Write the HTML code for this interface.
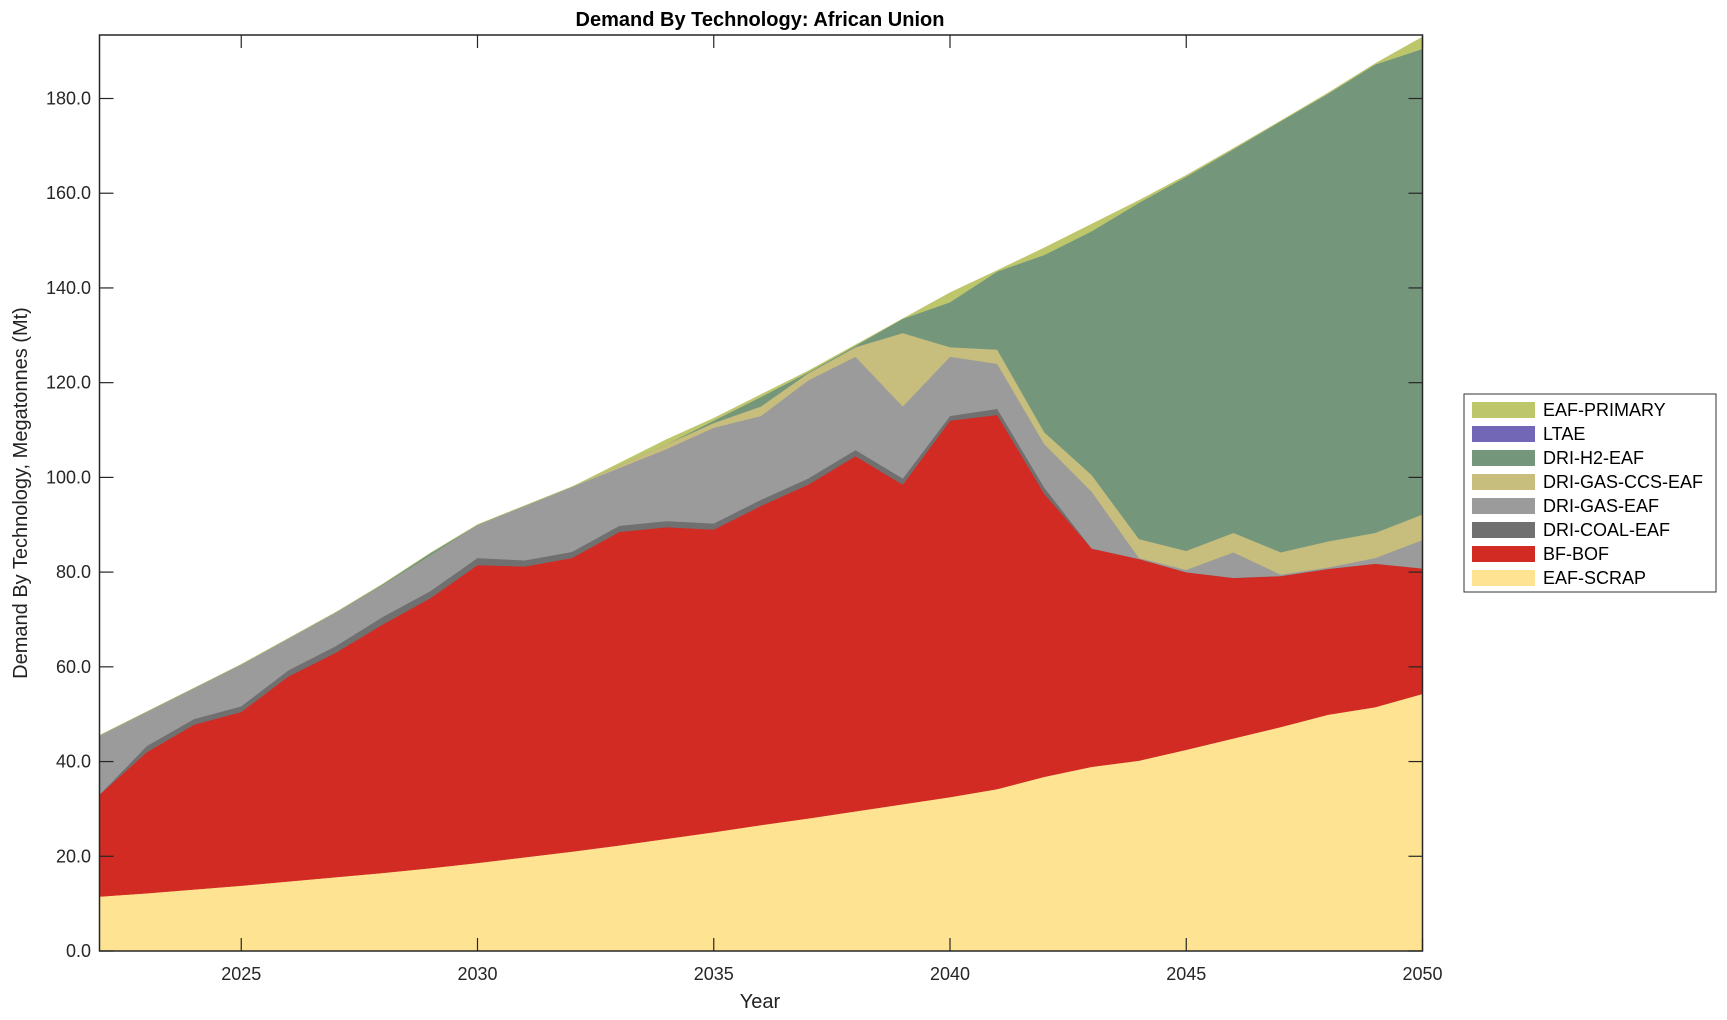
<!DOCTYPE html>
<html><head><meta charset="utf-8"><style>
html,body{margin:0;padding:0;background:#fff;}
svg{display:block;font-family:"Liberation Sans",Arial,sans-serif;}
</style></head><body>
<svg id="s" width="1727" height="1020" viewBox="0 0 1727 1020" xmlns="http://www.w3.org/2000/svg">
<g id="areas"></g>
<g id="axes"></g>
<text x="760" y="26" text-anchor="middle" font-size="20" font-weight="bold" fill="#000">Demand By Technology: African Union</text>
<text x="760" y="1008" text-anchor="middle" font-size="20" fill="#222">Year</text>
<text transform="translate(27,493) rotate(-90)" text-anchor="middle" font-size="20" fill="#222">Demand By Technology, Megatonnes (Mt)</text>
<rect x="1464" y="394" width="252" height="198" fill="#fff" stroke="#333" stroke-width="1"/>
<g id="legend" font-size="18" fill="#000"></g>
</svg>
<script>
var X0=99.5,X1=1422.5,Y0=951,SC=(951-98.5)/180;
function px(i){return X0+i*(X1-X0)/28;}
function py(v){return Y0-v*SC;}
var L=[
["EAF-SCRAP","#fee393",[11.5,12.2,13,13.8,14.7,15.6,16.5,17.5,18.6,19.8,21,22.3,23.7,25.1,26.6,28,29.5,31,32.5,34.2,36.8,38.9,40.2,42.5,44.9,47.3,49.9,51.5,54.3]],
["BF-BOF","#d22b23",[33,42,47.8,50.5,58,63,69,74.5,81.5,81.2,83,88.5,89.5,89,94,98.5,104.5,98.5,112,113.2,96.5,85,82.8,80,78.8,79.2,80.7,81.8,80.8]],
["DRI-COAL-EAF","#707070",[33,43.3,49,51.7,59.3,64.4,70.6,76,83,82.5,84.3,89.8,90.8,90.3,95.3,99.8,105.8,99.8,113,114.5,97.8,85,82.8,80,78.8,79.2,80.7,81.8,80.8]],
["DRI-GAS-EAF","#9b9b9b",[45.5,50.5,55.5,60.5,66,71.5,77.3,83.5,90,94,98,102,106,110.5,113,120.5,125.5,115,125.5,124,107,97,83,80.5,84.2,79.5,81,83,86.8]],
["DRI-GAS-CCS-EAF","#c7bd7c",[45.5,50.5,55.5,60.5,66,71.5,77.3,83.5,90,94,98,102.5,107,111.5,115,122,127.5,130.5,127.5,127,109.5,100.5,87,84.5,88.3,84.2,86.5,88.3,92.2]],
["DRI-H2-EAF","#74977c",[45.5,50.5,55.5,60.5,66,71.5,77.5,84,90,94,98,102.5,107,112,117,122.2,127.8,133.5,137,143.5,147,152,158,163.5,169.3,175.2,181,187.2,190.5]],
["LTAE","#7267b6",null],
["EAF-PRIMARY","#bdc66a",[45.5,50.5,55.5,60.5,66,71.5,77.5,84,90,94,98,103,108,112.5,117.5,122.5,128,133.5,139,143.7,148.5,153.5,158.5,163.8,169.5,175.3,181.2,187.4,193]]
];
var NS="http://www.w3.org/2000/svg",g=document.getElementById("areas");
var prev=[];for(var i=0;i<29;i++)prev.push(0);
L.forEach(function(l){
 if(!l[2])return;
 var d="M"+px(0)+","+py(l[2][0]);
 for(var i=1;i<29;i++)d+="L"+px(i)+","+py(l[2][i]);
 for(var i=28;i>=0;i--)d+="L"+px(i)+","+py(prev[i]);
 var p=document.createElementNS(NS,"path");p.setAttribute("d",d+"Z");p.setAttribute("fill",l[1]);p.setAttribute("stroke",l[1]);p.setAttribute("stroke-width","0.5");g.appendChild(p);
 prev=l[2];
});
var a=document.getElementById("axes"),h="";
h+='<rect x="'+X0+'" y="35" width="'+(X1-X0)+'" height="'+(Y0-35)+'" fill="none" stroke="#262626" stroke-width="1.5"/>';
for(var v=0;v<=180;v+=20){var y=py(v);h+='<line x1="'+X0+'" x2="'+(X0+14)+'" y1="'+y+'" y2="'+y+'" stroke="#262626" stroke-width="1.2"/><line x1="'+(X1-14)+'" x2="'+X1+'" y1="'+y+'" y2="'+y+'" stroke="#262626" stroke-width="1.2"/><text x="91" y="'+(y+6)+'" text-anchor="end" font-size="18" fill="#262626">'+v.toFixed(1)+'</text>';}
for(var yr=2025;yr<=2050;yr+=5){var x=px(yr-2022);h+='<line x1="'+x+'" x2="'+x+'" y1="'+Y0+'" y2="'+(Y0-13)+'" stroke="#262626" stroke-width="1.2"/><line x1="'+x+'" x2="'+x+'" y1="35" y2="48" stroke="#262626" stroke-width="1.2"/><text x="'+x+'" y="980" text-anchor="middle" font-size="18" fill="#262626">'+yr+'</text>';}
a.innerHTML=h;
var lg=document.getElementById("legend"),s="",order=L.slice().reverse();
order.forEach(function(l,i){var cy=410+i*24;s+='<rect x="1472" y="'+(cy-8)+'" width="63" height="16" fill="'+l[1]+'"/><text x="1543" y="'+(cy+6)+'">'+l[0]+'</text>';});
lg.innerHTML=s;
</script>
</body></html>
